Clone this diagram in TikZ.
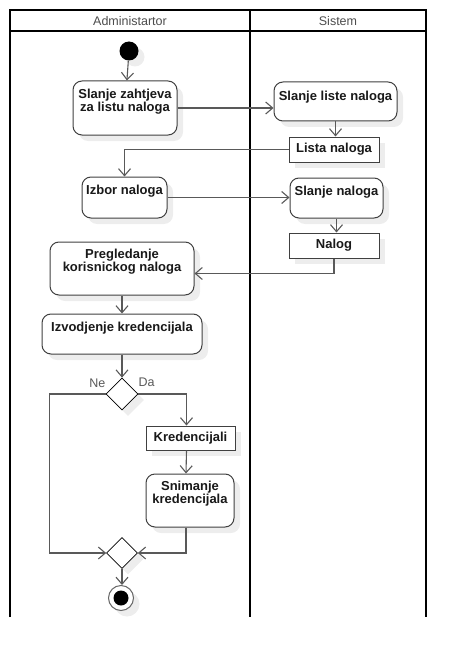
\documentclass[tikz,border=0pt]{standalone}
\usepackage{fontspec}
\setmainfont{Liberation Sans}
\usetikzlibrary{arrows.meta,shapes.geometric,shadows}

\tikzset{
  lane/.style={draw=black, line width=2pt},
  lanetitle/.style={font=\fontsize{12.5}{14}\selectfont, text=black!70},
  boxshadow/.style={drop shadow={shadow xshift=6pt, shadow yshift=-6pt, fill=black!7, opacity=1}},
  act/.style={draw=black!75, line width=1pt, rounded corners=9pt, fill=white, boxshadow},
  obj/.style={draw=black!75, line width=1pt, fill=white, boxshadow, inner sep=1pt,
    font=\fontsize{13}{13.5}\selectfont\bfseries, text=black!90},
  txt/.style={anchor=north, align=center, inner sep=0pt,
    font=\fontsize{13}{13.5}\selectfont\bfseries, text=black!90},
  dec/.style={diamond, draw=black, line width=0.7pt, fill=white, inner sep=0pt, boxshadow},
  flow/.style={draw=black!65, line width=1.1pt, -{Straight Barb[length=7pt,width=12pt]}},
  guard/.style={font=\fontsize{12.5}{14}\selectfont, text=black!65, inner sep=0pt},
}

\begin{document}
\begin{tikzpicture}[x=1pt, y=-1pt]
\useasboundingbox (0,0) rectangle (466,658);

\draw[lane] (10,617) -- (10,10) -- (426,10) -- (426,617);
\draw[lane] (250,10) -- (250,617);
\draw[lane] (10,31) -- (426,31);
\node[lanetitle] (admin) at (130,21) {Administartor};
\node[lanetitle] (sistem) at (338,21) {Sistem};

\node[circle, fill=black, minimum size=19pt, inner sep=0pt, boxshadow] (start) at (129,51) {};
\node[act, minimum width=104pt, minimum height=54pt] (zahtjev) at (125,108) {};
\node[txt] (zahtjevt) at ([yshift=-8pt]zahtjev.north) {Slanje zahtjeva\\za listu naloga};
\node[act, minimum width=123pt, minimum height=39pt] (listeslanje) at (335.5,101.5) {};
\node[txt] (listeslanjet) at ([yshift=-9pt]listeslanje.north) {Slanje liste naloga};
\node[obj, minimum width=90pt, minimum height=25pt] (lista) at (334,149.5) {Lista naloga};
\node[act, minimum width=85pt, minimum height=41pt] (izbor) at (124.5,197.5) {};
\node[txt] (izbort) at ([yshift=-8pt]izbor.north) {Izbor naloga};
\node[act, minimum width=93pt, minimum height=40pt] (slanjenaloga) at (336.5,198) {};
\node[txt] (slanjenalogat) at ([yshift=-8pt]slanjenaloga.north) {Slanje naloga};
\node[obj, minimum width=90pt, minimum height=25pt] (nalog) at (334,245.5) {Nalog};
\node[act, minimum width=144pt, minimum height=53pt] (pregled) at (122,268.5) {};
\node[txt] (pregledt) at ([yshift=-7pt]pregled.north) {Pregledanje\\korisnickog naloga};
\node[act, minimum width=160pt, minimum height=40pt] (izvod) at (122,334) {};
\node[txt] (izvodt) at ([yshift=-8pt]izvod.north) {Izvodjenje kredencijala};
\node[dec, minimum width=32pt, minimum height=32pt] (d1) at (122,394) {};
\node[guard, anchor=east] (ne) at ([yshift=11pt]d1.west) {Ne};
\node[guard, anchor=west] (da) at ([yshift=12pt]d1.east) {Da};
\node[obj, minimum width=89pt, minimum height=24pt] (kred) at (190.5,438) {Kredencijali};
\node[act, minimum width=88pt, minimum height=53pt] (snim) at (190,500.5) {};
\node[txt] (snimt) at ([yshift=-7pt]snim.north) {Snimanje\\kredencijala};
\node[dec, minimum width=31pt, minimum height=31pt] (m) at (122,553) {};
\node[circle, draw=black!60, line width=1pt, fill=white, minimum size=25pt, inner sep=0pt, boxshadow] (fin) at (121,598) {};
\node[circle, fill=black, minimum size=15pt, inner sep=0pt] (finc) at (fin) {};

\draw[flow] (start) -- (zahtjev);
\draw[flow] (zahtjev.east) -- (zahtjev.east -| listeslanje.west);
\draw[flow] (listeslanje.south) -- (listeslanje.south |- lista.north);
\draw[flow] (lista.west) -| (izbor.north);
\draw[flow] (izbor.east) -- (izbor.east -| slanjenaloga.west);
\draw[flow] (slanjenaloga.south) -- (slanjenaloga.south |- nalog.north);
\draw[flow] (nalog.south) |- ([yshift=-5pt]pregled.east);
\draw[flow] (pregled) -- (izvod);
\draw[flow] (izvod) -- (d1);
\draw[flow] (d1.west) -- ++(-56,0) |- (m.west);
\draw[flow] (d1.east) -| ([xshift=-4pt]kred.north);
\draw[flow] ([xshift=-4pt]kred.south) -- ([xshift=-4pt]snim.north);
\draw[flow] ([xshift=-4pt]snim.south) |- (m.east);
\draw[flow] (m.south) -- (m.south |- fin.north);
\end{tikzpicture}
\end{document}
